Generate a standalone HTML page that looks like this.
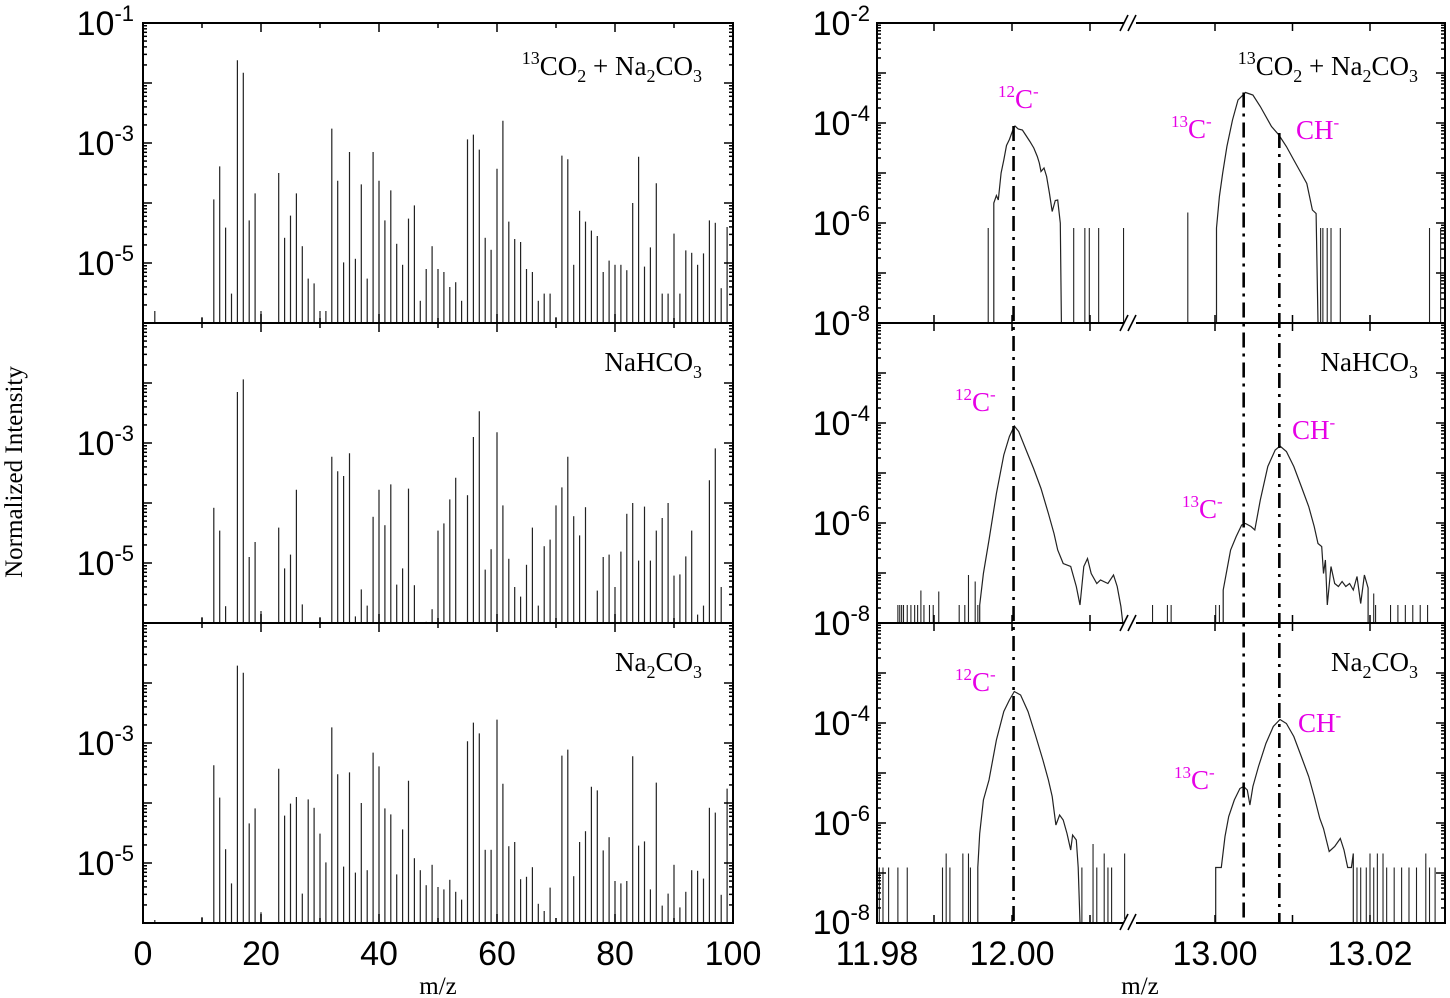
<!DOCTYPE html>
<html><head><meta charset="utf-8"><style>
body{margin:0;background:#fff}
svg{display:block}
.t{font-family:"Liberation Sans",sans-serif;font-size:34px;fill:#000}
.s{font-family:"Liberation Serif",serif;fill:#000}
.m{font-family:"Liberation Serif",serif;fill:#e600e6;font-size:27px}
</style></head><body>
<svg id="chart" width="1450" height="998" viewBox="0 0 1450 998" xmlns="http://www.w3.org/2000/svg">
<g id="g"></g>
</svg>
<script>
// ---------- Left panels: integer m/z bars (log10 intensity) ----------
const barMz1=[2,10,12,13,14,15,16,17,18,19,20,23,24,25,26,27,28,29,30,31,32,33,34,35,36,37,38,39,40,41,42,43,44,45,46,47,48,49,50,51,52,53,54,55,56,57,58,59,60,61,62,63,64,65,66,67,68,69,70,71,72,73,74,75,76,77,78,79,80,81,82,83,84,85,86,87,88,89,90,91,92,93,94,95,96,97,98,99];
const barLog1=[-5.8,-5.9,-3.94,-3.39,-4.41,-5.51,-1.62,-1.83,-4.29,-3.84,-5.8,-3.5,-4.58,-4.21,-3.84,-4.72,-5.26,-5.34,-5.8,-5.8,-2.76,-3.63,-4.99,-3.15,-4.93,-3.69,-5.26,-3.15,-3.63,-4.29,-3.79,-4.68,-5.03,-4.26,-4.04,-5.63,-5.1,-4.72,-5.1,-5.15,-5.4,-5.32,-5.63,-2.94,-2.86,-3.11,-4.58,-4.78,-3.43,-2.63,-4.31,-4.6,-4.65,-5.1,-5.15,-5.63,-5.51,-5.51,-5.9,-3.21,-3.27,-5.03,-4.13,-4.31,-4.46,-4.55,-5.15,-4.96,-5.03,-5.03,-5.12,-4.0,-3.23,-5.06,-4.74,-3.67,-5.51,-5.51,-4.51,-5.51,-4.79,-4.83,-5.03,-4.84,-4.29,-4.33,-5.42,-4.4];
const barMz2=[10,12,13,14,16,17,18,19,20,23,24,25,26,27,30,32,33,34,35,36,37,38,39,40,41,42,43,44,45,46,48,49,50,51,52,53,55,56,57,58,59,60,61,62,63,64,65,66,67,68,69,70,71,72,73,74,75,77,78,79,80,81,82,83,84,85,86,87,88,89,90,91,92,93,94,95,96,97,98];
const barLog2=[-5.9,-4.08,-4.46,-5.72,-2.15,-1.94,-4.9,-4.65,-5.8,-4.41,-5.09,-4.86,-3.78,-5.69,-5.9,-3.23,-3.47,-3.55,-3.17,-5.89,-5.44,-5.71,-4.23,-3.78,-4.37,-3.69,-5.36,-5.09,-3.76,-5.37,-5.98,-5.77,-4.46,-4.34,-3.94,-3.58,-3.87,-2.9,-2.47,-5.11,-4.77,-2.82,-4.04,-4.93,-5.4,-5.56,-5.03,-4.41,-5.71,-4.72,-4.61,-4.04,-3.74,-3.23,-4.22,-4.54,-4.07,-5.46,-4.9,-4.86,-5.4,-4.81,-4.18,-4.0,-4.96,-4.06,-4.96,-4.46,-4.25,-4.0,-5.21,-5.19,-4.89,-4.46,-5.86,-5.71,-3.62,-3.09,-5.4];
const barMz3=[2,10,12,13,14,15,16,17,18,19,20,23,24,25,26,27,28,29,30,31,32,33,34,35,36,37,38,39,40,41,42,43,44,45,46,47,48,49,50,51,52,53,54,55,56,57,58,59,60,61,62,63,64,65,66,67,68,69,71,72,73,74,75,76,77,78,79,80,81,82,83,84,85,86,87,88,89,90,91,92,93,94,95,96,97,98,99];
const barLog3=[-5.95,-5.9,-3.37,-3.91,-4.77,-5.34,-1.71,-1.83,-4.34,-4.09,-5.82,-3.43,-4.21,-4.01,-3.9,-5.51,-3.94,-4.08,-4.51,-4.99,-2.74,-3.52,-5.06,-3.49,-5.16,-4.0,-5.12,-3.16,-3.39,-4.09,-4.19,-5.19,-4.44,-3.63,-4.92,-5.12,-5.37,-5.03,-5.4,-5.44,-5.28,-5.48,-5.61,-2.97,-2.66,-2.84,-4.78,-4.78,-2.61,-3.68,-4.72,-4.65,-5.27,-5.23,-5.07,-5.68,-5.8,-5.41,-3.21,-3.11,-5.22,-4.65,-4.47,-3.73,-3.79,-4.79,-4.57,-5.3,-5.34,-5.3,-3.22,-4.71,-4.64,-5.44,-3.66,-5.71,-5.51,-5.03,-5.74,-5.48,-5.12,-5.13,-5.26,-4.08,-4.16,-5.53,-3.76];
const leftXTicks=[0,20,40,60,80,100];

// ---------- Right panels: high-resolution traces (log10 intensity) ----------
const traceMz1=[11.99767,11.99767,11.9980,11.99824,11.9986,11.99895,11.9993,11.99967,12.0002,12.00038,12.0008,12.00133,12.0018,12.00229,12.0028,12.00324,12.0035,12.00372,12.0041,12.00444,12.0048,12.00515,12.00555,12.00586,12.00619,12.00633,13.00019,13.00019,13.00057,13.0010,13.00153,13.00226,13.00297,13.00394,13.00489,13.00585,13.00729,13.00825,13.00921,13.01017,13.01113,13.01185,13.01257,13.01305,13.01329];
const traceLog1=[-8,-5.6,-5.45,-5.54,-5.0,-4.74,-4.45,-4.33,-4.10,-4.06,-4.12,-4.14,-4.25,-4.37,-4.50,-4.67,-4.80,-4.97,-4.90,-5.07,-5.40,-5.77,-5.55,-5.54,-6.0,-8,-8,-6.1,-5.47,-5.0,-4.47,-3.94,-3.54,-3.39,-3.44,-3.67,-4.07,-4.24,-4.47,-4.74,-5.01,-5.21,-5.74,-5.81,-8];
const spikeMz1=[11.99695,12.00791,12.00934,12.00991,12.01111,12.0143,12.99649,13.01363,13.01392,13.01448,13.01497,13.01617,13.02768,13.02911];
const spikeLog1=[-6.1,-6.1,-6.1,-6.1,-6.1,-6.1,-5.79,-6.1,-6.1,-6.1,-6.1,-6.1,-6.1,-6.1];

const traceMz2=[11.99586,11.99586,11.99633,11.99705,11.998,11.99895,11.99967,12.00029,12.00086,12.00181,12.00277,12.00372,12.00467,12.00538,12.00586,12.00657,12.00753,12.00824,12.00872,12.0092,12.00968,12.01015,12.01087,12.01135,12.0123,12.01301,12.01349,12.01396,12.0142,13.00106,13.00106,13.00154,13.00201,13.00274,13.00345,13.00394,13.00465,13.00513,13.00585,13.00681,13.00777,13.00839,13.00921,13.01017,13.01113,13.01209,13.0128,13.01329,13.01377,13.014,13.01425,13.01449,13.01497,13.01545,13.01592,13.0164,13.01688,13.01737,13.01785,13.01832,13.0188,13.01928,13.01976,13.01976];
const traceLog2=[-8,-7.64,-7.01,-6.34,-5.41,-4.64,-4.27,-4.06,-4.17,-4.54,-4.91,-5.31,-5.81,-6.21,-6.54,-6.81,-6.87,-7.27,-7.64,-6.87,-6.71,-7.01,-7.21,-7.14,-7.21,-7.04,-7.27,-7.67,-8,-8,-7.34,-6.94,-6.54,-6.27,-6.04,-6.01,-6.07,-6.14,-5.54,-4.87,-4.54,-4.46,-4.57,-4.87,-5.27,-5.67,-6.07,-6.41,-6.47,-7.01,-6.74,-7.64,-6.87,-7.21,-7.27,-7.17,-7.27,-7.21,-7.34,-7.07,-7.61,-7.04,-7.3,-8];
const spikeMz2=[11.98537,11.98561,11.98585,11.98609,11.98657,11.98704,11.98752,11.9879,11.98832,11.98871,11.98942,11.9899,11.99061,11.99323,11.99395,11.99442,11.99528,11.99562,12.99194,12.99386,12.99434,13.00009,13.00057,13.02048,13.02072,13.02265,13.0236,13.02456,13.02552,13.02648,13.02743];
const spikeLog2=[-7.64,-7.64,-7.64,-7.64,-7.64,-7.64,-7.64,-7.64,-7.35,-7.64,-7.64,-7.64,-7.37,-7.64,-7.64,-7.04,-7.17,-7.64,-7.64,-7.64,-7.64,-7.64,-7.64,-7.41,-7.64,-7.64,-7.64,-7.64,-7.64,-7.64,-7.64];

const traceMz3=[11.99562,11.99562,11.99586,11.99633,11.99705,11.998,11.99895,11.99967,12.00029,12.0011,12.00205,12.003,12.00396,12.00467,12.00515,12.00563,12.0061,12.00657,12.00705,12.00753,12.00777,12.00824,12.00849,12.00872,13.00009,13.00009,13.00081,13.00129,13.00177,13.00249,13.00321,13.00369,13.00417,13.0045,13.00489,13.00561,13.00657,13.00752,13.00839,13.00921,13.01017,13.01113,13.01209,13.0128,13.01352,13.014,13.01473,13.01545,13.01617,13.01665,13.01712,13.0176,13.01785,13.01785];
const traceLog3=[-8,-6.89,-6.21,-5.54,-5.14,-4.34,-3.77,-3.54,-3.37,-3.44,-3.77,-4.24,-4.74,-5.14,-5.47,-6.04,-5.84,-5.94,-6.21,-6.54,-6.24,-6.34,-6.89,-8,-8,-6.89,-6.89,-6.27,-5.87,-5.54,-5.31,-5.27,-5.34,-5.64,-5.27,-4.87,-4.41,-4.07,-3.93,-4.01,-4.27,-4.67,-5.07,-5.47,-5.91,-6.11,-6.57,-6.47,-6.31,-6.54,-6.89,-6.89,-6.61,-8];
const spikeMz3=[11.98299,11.98346,11.98418,11.98537,11.98657,11.99109,11.99156,11.99204,11.9937,11.99442,11.99467,12.00896,12.01039,12.01087,12.01182,12.0123,12.01277,12.01444,13.01832,13.0188,13.01952,13.02,13.02048,13.02095,13.02168,13.02215,13.02312,13.02408,13.02503,13.026,13.0272,13.02768,13.0284];
const spikeLog3=[-6.89,-6.89,-6.89,-6.89,-6.89,-6.89,-6.61,-6.89,-6.61,-6.61,-6.89,-6.89,-6.42,-6.89,-6.61,-6.89,-6.89,-6.61,-6.89,-6.89,-6.89,-6.61,-6.89,-6.61,-6.61,-6.89,-6.89,-6.89,-6.89,-6.89,-6.61,-6.89,-6.89];

const refMz=[12.0002,13.0037,13.0083];
const refStartLog=[-4.06,-3.39,-4.2];
const rightXTicks=[11.99,12.00,12.01,13.00,13.01,13.02];
const rightXLabels=["12.00","13.00","13.02"];
const rightXLabelMz=[12.00,13.00,13.02];

// ---------- scales ----------
const NS="http://www.w3.org/2000/svg";
const g=document.getElementById('g');
const tops=[23,323,623];
const LX0=143,LX1=733,RX0=877,RX1=1445,BRK=1130;
function xL(m){return LX0+m*5.9;}
function yL(top,l){return top+(-1-l)*60;}
function xR(m){return m<12.5?1012+(m-12)*7800:1215+(m-13)*7750;}
function yR(top,l){return top+(-2-l)*50;}
function mk(tag,at,parent){const e=document.createElementNS(NS,tag);for(const k in at)e.setAttribute(k,at[k]);(parent||g).appendChild(e);return e;}
function ln(x1,y1,x2,y2,w,c){return mk('line',{x1,y1,x2,y2,stroke:c||'#000','stroke-width':w||1});}

const barMz=[barMz1,barMz2,barMz3],barLog=[barLog1,barLog2,barLog3];
const trMz=[traceMz1,traceMz2,traceMz3],trLog=[traceLog1,traceLog2,traceLog3];
const spMz=[spikeMz1,spikeMz2,spikeMz3],spLog=[spikeLog1,spikeLog2,spikeLog3];

for(let p=0;p<3;p++){
  const top=tops[p],bot=top+300;
  const gb=mk('g',{});
  
  
  for(let i=0;i<barMz[p].length;i++){
    const b=mk('line',{x1:xL(barMz[p][i]),x2:xL(barMz[p][i]),y1:bot,y2:yL(top,barLog[p][i]),stroke:'#222','stroke-width':1.2},gb);
    
    
  }
  for(let d=-1;d>=-6;d--){
    for(let k=1;k<10;k++){
      const yy=yL(top,d-1+Math.log10(k));
      if(yy<top||yy>bot)continue;
      const L=k===1?9:4;
      ln(LX0,yy,LX0+L,yy,1.5);ln(LX1,yy,LX1-L,yy,1.5);
    }
  }
  for(let m=0;m<=100;m+=10){
    const L=m%20===0?9:5,x=xL(m);
    ln(x,bot,x,bot-L,1.5);ln(x,top,x,top+L,1.5);
  }
  const fr=mk('rect',{x:LX0,y:top,width:LX1-LX0,height:300,fill:'none',stroke:'#000','stroke-width':2});
  
  

  const gt=mk('g',{});
  
  
  let segA=[],segB=[];
  for(let i=0;i<trMz[p].length;i++){
    const pt=xR(trMz[p][i]).toFixed(1)+','+yR(top,trLog[p][i]).toFixed(1);
    (trMz[p][i]<12.5?segA:segB).push(pt);
  }
  [segA,segB].forEach(s=>{if(s.length)mk('polyline',{points:s.join(' '),fill:'none',stroke:'#222','stroke-width':1.2},gt);});
  for(let i=0;i<spMz[p].length;i++){
    const x=xR(spMz[p][i]);
    const sp=mk('line',{x1:x,x2:x,y1:bot,y2:yR(top,spLog[p][i]),stroke:'#222','stroke-width':1.1},gt);
    
    
  }
  for(let d=-2;d>=-8;d--){
    for(let k=1;k<10;k++){
      const yy=yR(top,d-1+Math.log10(k));
      if(yy<top||yy>bot)continue;
      const L=k===1?9:4;
      ln(RX0,yy,RX0+L,yy,1.5);ln(RX1,yy,RX1-L,yy,1.5);
    }
  }
  rightXTicks.forEach(m=>{const x=xR(m);ln(x,bot,x,bot-8,1.5);ln(x,top,x,top+8,1.5);});
  const fr2=mk('rect',{x:RX0,y:top,width:RX1-RX0,height:300,fill:'none',stroke:'#000','stroke-width':2});
  
  
}
for(let i=0;i<refMz.length;i++){
  const x=xR(refMz[i]);
  const r=ln(x,yR(23,refStartLog[i]),x,922,2.6);
  r.setAttribute('stroke-dasharray','15 6 3 6');
  
  
}
[23,323,623,922].forEach(y=>{
  mk('rect',{x:BRK-6,y:y-3,width:12,height:6,fill:'#fff'});
  ln(BRK-10,y+8,BRK-2,y-8,1.6);ln(BRK-2,y+8,BRK+6,y-8,1.6);
});

function sup(x,y,base,s,anchor,cls,fs,sfs,dy){
  const t=mk('text',{x,y,'text-anchor':anchor,class:cls});
  t.setAttribute('font-size',fs);
  const a=mk('tspan',{},t);a.textContent=base;
  const b=mk('tspan',{dy:-dy,'font-size':sfs},t);b.textContent=s;
  return t;
}
const leftYLab=[[23,"-1"],[143,"-3"],[263,"-5"],[443,"-3"],[563,"-5"],[743,"-3"],[863,"-5"]];
leftYLab.forEach(v=>{const t=sup(134,v[0]+12,"10",v[1],'end','t',34,22,14);});
const rightYLab=[[23,"-2"],[123,"-4"],[223,"-6"],[323,"-8"],[423,"-4"],[523,"-6"],[623,"-8"],[723,"-4"],[823,"-6"],[922,"-8"]];
rightYLab.forEach(v=>{const t=sup(870,v[0]+12,"10",v[1],'end','t',34,22,14);});
leftXTicks.forEach(m=>{const t=mk('text',{x:xL(m),y:965,'text-anchor':'middle',class:'t'});t.textContent=m;});
{const t=mk('text',{x:877,y:965,'text-anchor':'middle',class:'t'});t.textContent="11.98";}
rightXLabelMz.forEach((m,i)=>{const t=mk('text',{x:xR(m),y:965,'text-anchor':'middle',class:'t'});t.textContent=rightXLabels[i];});
[438,1140].forEach(x=>{const t=mk('text',{x,y:994,'text-anchor':'middle',class:'s','font-size':25});t.textContent="m/z";});
{const t=mk('text',{x:0,y:0,'text-anchor':'middle',class:'s','font-size':25,transform:'translate(22,472) rotate(-90)'});t.textContent="Normalized Intensity";}

function title(xEnd,y,parts){
  const t=mk('text',{x:xEnd,y,'text-anchor':'end',class:'s','font-size':27});
  parts.forEach(pr=>{const s=mk('tspan',{},t);s.textContent=pr[0];
    if(pr[1]==='u'){s.setAttribute('font-size',18);s.setAttribute('dy',-11);}
    else if(pr[1]==='d'){s.setAttribute('font-size',18);s.setAttribute('dy',7);}
    else if(pr[1]==='r'){s.setAttribute('dy',pr[2]);}
  });
  return t;
}
const T1=[["13","u"],["CO","r",11],["2","d"],[" + Na","r",-7],["2","d"],["CO","r",-7],["3","d"]];
const T2=[["NaHCO"],["3","d"]];
const T3=[["Na"],["2","d"],["CO","r",-7],["3","d"]];
[[T1,75,'title-13co2-na2co3'],[T2,371,'title-nahco3'],[T3,671,'title-na2co3']].forEach(v=>{
  [702,1418].forEach(x=>{const t=title(x,v[1],v[0]);});
});
function plab(x,y,base,name){
  const t=mk('text',{x,y,class:'m'});
  if(base==='CH'){const a=mk('tspan',{},t);a.textContent='CH';const b=mk('tspan',{dy:-11,'font-size':17},t);b.textContent='-';}
  else{const a=mk('tspan',{'font-size':17,dy:-11},t);a.textContent=base;const b=mk('tspan',{dy:11},t);b.textContent='C';const c=mk('tspan',{dy:-11,'font-size':17},t);c.textContent='-';}
  
  
}
plab(998,108,'12','label-12c-panel1');plab(1171,138,'13','label-13c-panel1');plab(1296,139,'CH','label-ch-panel1');
plab(955,411,'12','label-12c-panel2');plab(1182,518,'13','label-13c-panel2');plab(1292,439,'CH','label-ch-panel2');
plab(955,691,'12','label-12c-panel3');plab(1174,789,'13','label-13c-panel3');plab(1298,732,'CH','label-ch-panel3');
</script>
</body></html>
